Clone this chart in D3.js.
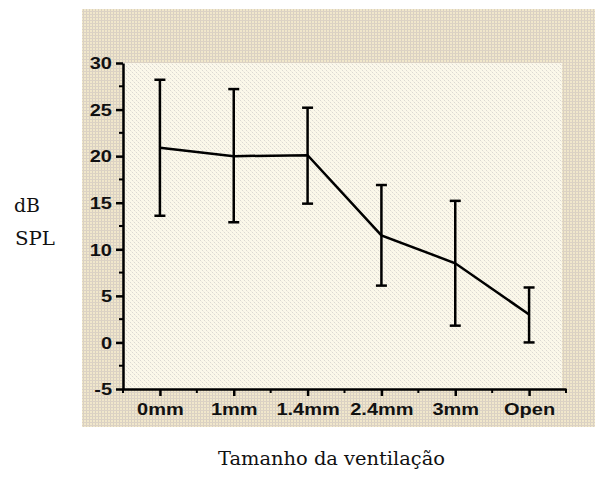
<!DOCTYPE html>
<html><head><meta charset="utf-8">
<script src="https://cdn.jsdelivr.net/npm/d3@7"></script>
<style>body{margin:0;background:#fff}svg{display:block}</style>
</head><body>
<script>
const categories = ["0mm","1mm","1.4mm","2.4mm","3mm","Open"];
const means = [20.9, 20.0, 20.1, 11.5, 8.5, 3.0];
const upper = [28.2, 27.2, 25.2, 16.9, 15.2, 5.9];
const lower = [13.6, 12.9, 14.9, 6.1, 1.8, 0.0];
const yTicks = [-5, 0, 5, 10, 15, 20, 25, 30];
const yMinor = [-2.5, 2.5, 7.5, 12.5, 17.5, 22.5, 27.5];

const W = 595, H = 479;
const svg = d3.select("body").append("svg").attr("width", W).attr("height", H);
const defs = svg.append("defs");
const pOut = defs.append("pattern").attr("id","pout").attr("width",3).attr("height",3).attr("patternUnits","userSpaceOnUse");
pOut.append("rect").attr("width",3).attr("height",3).attr("fill","#f1e7cb");
pOut.append("rect").attr("x",2).attr("width",1).attr("height",3).attr("fill","#d8d0c2");
pOut.append("rect").attr("y",2).attr("width",3).attr("height",1).attr("fill","#dcd2c4");
const pIn = defs.append("pattern").attr("id","pin").attr("width",4).attr("height",4).attr("patternUnits","userSpaceOnUse");
pIn.append("rect").attr("width",4).attr("height",4).attr("fill","#fbf8ea");
pIn.append("rect").attr("x",0).attr("y",0).attr("width",1).attr("height",1).attr("fill","#dcd9d2");
pIn.append("rect").attr("x",2).attr("y",2).attr("width",1).attr("height",1).attr("fill","#dcd9d2");
pIn.append("rect").attr("x",1).attr("y",1).attr("width",1).attr("height",1).attr("fill","#f2ece0");
pIn.append("rect").attr("x",3).attr("y",3).attr("width",1).attr("height",1).attr("fill","#f2ece0");

const L = 123, R = 566, T = 63, B = 389;
svg.append("rect").attr("x",82).attr("y",9).attr("width",W-82).attr("height",427-9).attr("fill","url(#pout)");
svg.append("rect").attr("x",L).attr("y",T).attr("width",562-L).attr("height",B-T).attr("fill","url(#pin)");

const x = d3.scalePoint().domain(categories).range([L, R]).padding(0.5);
const y = d3.scaleLinear().domain([-5, 30]).range([B, T]);
const step = x.step();

const font = "'Liberation Sans', Arial, sans-serif";

// y axis
const ya = svg.append("g").attr("transform",`translate(${L},0)`)
  .call(d3.axisLeft(y).tickValues(yTicks).tickFormat(d => String(d)).tickSize(7).tickPadding(5).tickSizeOuter(0));
ya.select(".domain").attr("stroke","#000").attr("stroke-width",2.5);
ya.selectAll(".tick line").attr("stroke","#000").attr("stroke-width",2.5);
ya.selectAll(".tick text").attr("font-family",font).attr("font-weight","bold").attr("font-size",16)
  .attr("fill","#111").attr("dy","0.36em")
  .attr("transform","scale(1.25,1)")
  .attr("x", -11/1.25);
svg.append("g").selectAll("line").data(yMinor).join("line")
  .attr("x1",L-4).attr("x2",L).attr("y1",d=>y(d)).attr("y2",d=>y(d))
  .attr("stroke","#000").attr("stroke-width",2);

// x axis
const xa = svg.append("g").attr("transform",`translate(0,${B})`)
  .call(d3.axisBottom(x).tickSize(7).tickPadding(8).tickSizeOuter(0));
xa.select(".domain").attr("stroke","#000").attr("stroke-width",2.5);
xa.selectAll(".tick line").attr("stroke","#000").attr("stroke-width",2.5);
xa.selectAll(".tick text").attr("font-family",font).attr("font-weight","bold").attr("font-size",16)
  .attr("fill","#111").attr("transform","scale(1.25,1)");
const xMinor = categories.map(c => x(c) + step/2).concat([x(categories[0]) - step/2]);
svg.append("g").selectAll("line").data(xMinor).join("line")
  .attr("x1",d=>d).attr("x2",d=>d).attr("y1",B).attr("y2",B+4)
  .attr("stroke","#000").attr("stroke-width",2);

// error bars
const eb = svg.append("g").attr("stroke","#000").attr("stroke-width",2.5).attr("fill","none");
categories.forEach((c,i)=>{
  const cx = x(c);
  eb.append("line").attr("x1",cx).attr("x2",cx).attr("y1",y(upper[i])).attr("y2",y(lower[i]));
  eb.append("line").attr("x1",cx-5.5).attr("x2",cx+5.5).attr("y1",y(upper[i])).attr("y2",y(upper[i]));
  eb.append("line").attr("x1",cx-5.5).attr("x2",cx+5.5).attr("y1",y(lower[i])).attr("y2",y(lower[i]));
});
// mean line
svg.append("path").datum(means)
  .attr("d", d3.line().x((d,i)=>x(categories[i])).y(d=>y(d)))
  .attr("fill","none").attr("stroke","#000").attr("stroke-width",2.5);

// axis titles
const sf = "'DejaVu Serif', 'Liberation Serif', serif";
svg.append("text").attr("x",14).attr("y",212).attr("font-family",sf).attr("font-size",19).attr("fill","#111")
  .attr("textLength",26).attr("lengthAdjust","spacingAndGlyphs").text("dB");
svg.append("text").attr("x",15).attr("y",245).attr("font-family",sf).attr("font-size",19).attr("fill","#111")
  .attr("textLength",40).attr("lengthAdjust","spacingAndGlyphs").text("SPL");
svg.append("text").attr("x",218).attr("y",465).attr("font-family",sf).attr("font-size",19).attr("fill","#111")
  .attr("textLength",227).attr("lengthAdjust","spacingAndGlyphs").text("Tamanho da ventilação");
</script>
</body></html>
